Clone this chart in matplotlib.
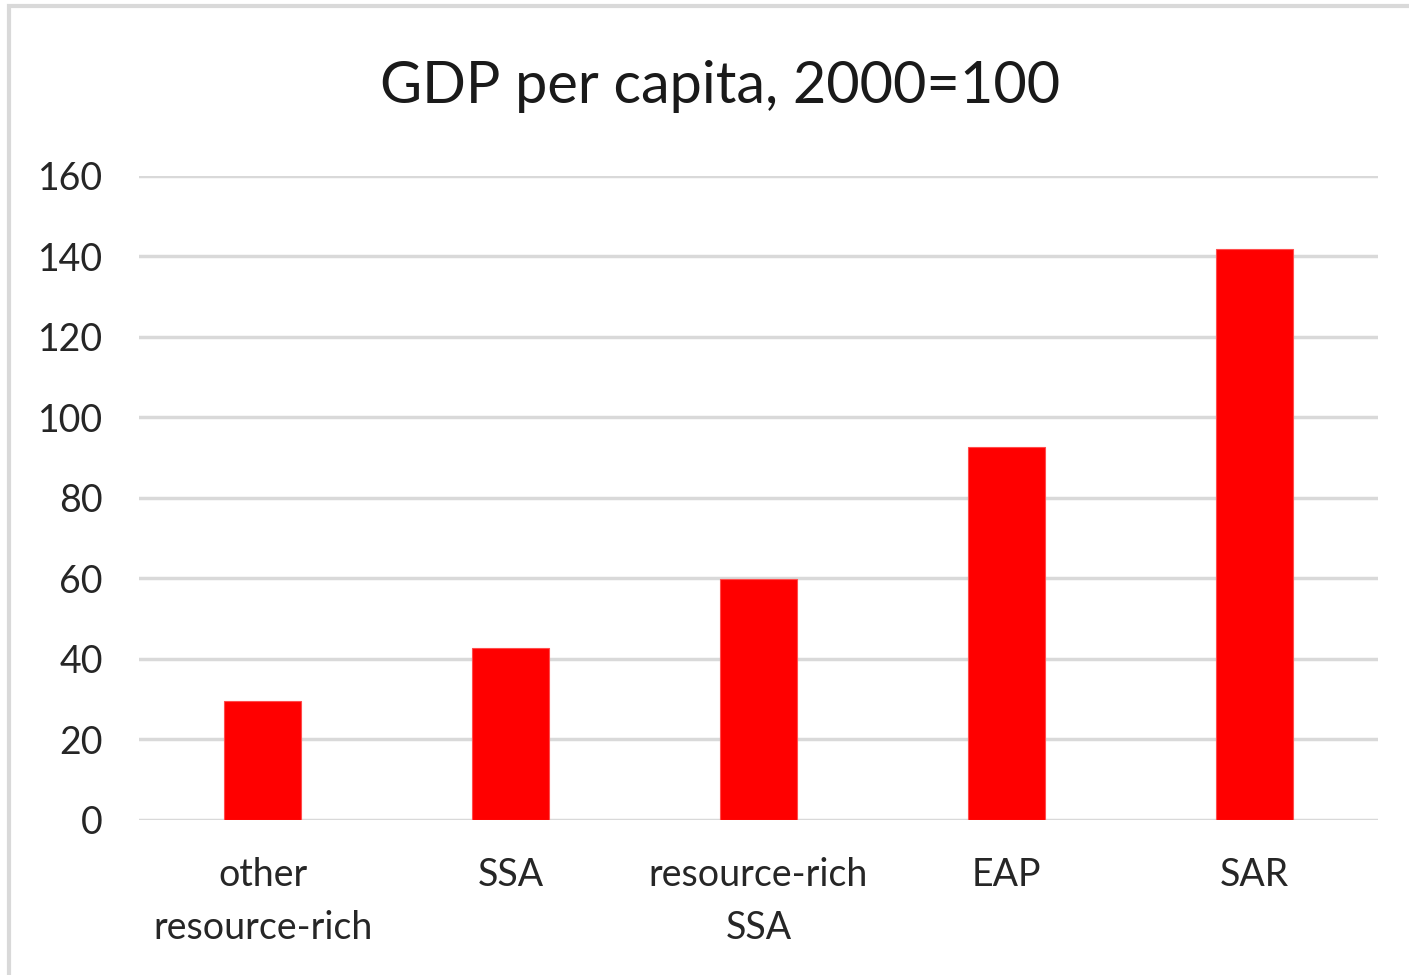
import matplotlib
matplotlib.use("Agg")
import matplotlib.pyplot as plt
from matplotlib.patches import Rectangle

# GDP per capita index by region group (2000 = 100)
categories = ["other\nresource-rich", "SSA", "resource-rich\nSSA", "EAP", "SAR"]
values = [29.5, 42.6, 59.7, 92.5, 141.8]
yticks = [0, 20, 40, 60, 80, 100, 120, 140, 160]

plt.rcParams['font.family'] = ['Lato', 'DejaVu Sans']

fig = plt.figure(figsize=(14.09, 9.75), dpi=100)
fig.patch.set_facecolor("white")

# light grey chart frame (top and left edges show)
frame = Rectangle((9 / 1409, -0.05), 1.2, 1.05 - 6.5 / 975, transform=fig.transFigure,
                  fill=False, edgecolor="#d9d9d9", linewidth=3, zorder=0)
fig.patches.append(frame)

ax = fig.add_axes([139 / 1409, 155.5 / 975, 1239 / 1409, 643.8 / 975])

x = range(len(categories))
ax.bar(x, values, width=0.31, color="#ff0000", edgecolor="#ff4d4d", linewidth=0.8, zorder=3)

ax.set_xlim(-0.5, len(categories) - 0.5)
ax.set_ylim(0, 160)
ax.set_yticks(yticks)
ax.set_yticklabels([str(t) for t in yticks])
ax.set_xticks(list(x))
ax.set_xticklabels(categories, linespacing=1.6)

ax.grid(axis="y", color="#d9d9d9", linewidth=2.5, zorder=0)
ax.set_axisbelow(True)
for s in ax.spines.values():
    s.set_visible(False)

ax.tick_params(axis="y", length=0, pad=26, labelsize=27, labelcolor="#262626")
ax.tick_params(axis="x", length=0, pad=27, labelsize=27, labelcolor="#262626")

fig.text(0.511, 0.911, "GDP per capita, 2000=100", ha="center", va="center",
         fontsize=41.5, color="#1a1a1a")

fig.savefig("out.png", dpi=100)
